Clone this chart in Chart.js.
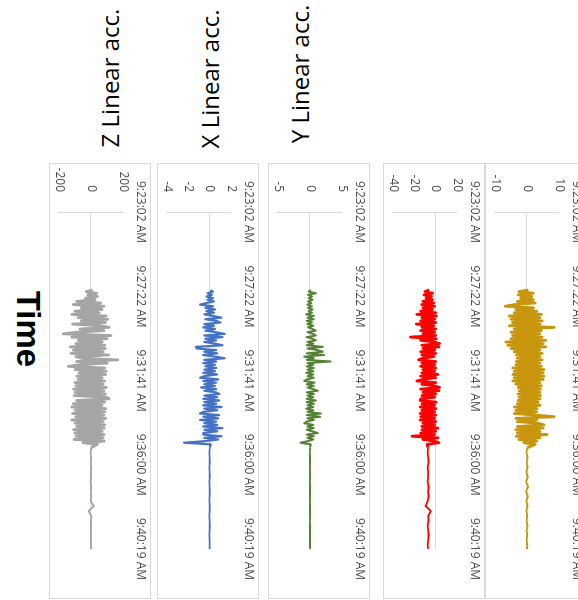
<!DOCTYPE html>
<html>
<head>
<meta charset="utf-8">
<script src="https://cdn.jsdelivr.net/npm/chart.js@4.4.1/dist/chart.umd.min.js"></script>
<style>
  html, body { margin: 0; padding: 0; background: #fff; }
  body { width: 578px; height: 600px; position: relative; overflow: hidden; font-family: "Open Sans", sans-serif; }
  /* the whole figure is turned a quarter turn clockwise */
  #stage { position: absolute; left: 0; top: 0; width: 600px; height: 578px; transform-origin: 0 0; transform: translateX(578px) rotate(90deg); }
  .box { position: absolute; width: 436px; height: 102px; border: 1px solid #d9d9d9; box-sizing: border-box; background: #fff; }
  .box canvas { position: absolute; left: -1px; top: -1px; }
  .label { position: absolute; white-space: nowrap; color: #000; line-height: 1; }
</style>
</head>
<body>
<div id="stage"></div>
<div class="label" style="left:110px;top:78px;font-size:24px;transform:translate(-50%,-50%) rotate(-90deg)">Z Linear acc.</div>
<div class="label" style="left:210px;top:79px;font-size:24px;transform:translate(-50%,-50%) rotate(-90deg)">X Linear acc.</div>
<div class="label" style="left:300px;top:74px;font-size:24px;transform:translate(-50%,-50%) rotate(-90deg)">Y Linear acc.</div>
<div class="label" style="left:28px;top:329px;font-size:33px;font-weight:bold;font-family:'Liberation Sans',Arial,sans-serif;transform:translate(-50%,-50%) rotate(90deg)">Time</div>
<script>
// time axis: seconds after 9:23:02 AM
const tickLabels = ['9:23:02 AM', '9:27:22 AM', '9:31:41 AM', '9:36:00 AM', '9:40:19 AM'];
const tickSec = [0, 260, 519, 778, 1037];

const sampleSec = [
  240, 245, 250, 255, 260, 265, 270, 275, 280, 285, 290, 295, 300, 305, 310, 315, 320, 325, 330, 335,
  340, 345, 350, 355, 360, 365, 370, 375, 380, 385, 390, 395, 400, 405, 410, 415, 420, 425, 430, 435,
  440, 445, 450, 455, 460, 465, 470, 475, 480, 485, 490, 495, 500, 505, 510, 515, 520, 525, 530, 535,
  540, 545, 550, 555, 560, 565, 570, 575, 580, 585, 590, 595, 600, 605, 610, 615, 620, 625, 630, 635,
  640, 645, 650, 655, 660, 665, 670, 675, 680, 685, 690, 695, 700, 705, 710, 715,
  725, 740, 755, 770, 785, 800, 815, 830, 845, 860, 875, 890, 905, 920, 935, 950, 965, 980, 995, 1010, 1025, 1037
];

// gold panel (top)
const accGold = [
  0.5, -2.5, 2, -2.8, 1.5, -2, 2,
  -3, 2.5, -4, -6.8, 2, -3.5, 3, -4,
  4.5, -5.5, 4, -5, 4.7, -4.5, 4, -5.5,
  8.5, -4, 4.5, -5, 4, -4.5, 4.7, -5,
  5.8, -6.6, 5, -6, 5.8,
  -5, 4, -4,
  4.7, -3.3, 4, -3, 4.7, -3.3, 4, -3.5, 4.5,
  -4.4, 5.3, -4, 5, -4.4, 5.3, -4, 5, -4.4,
  4, -3.5, 4.5,
  -2.8, 4.2, -2.5, 4, -2.8, 4.2, -2.5, 4, -2.8,
  3.5, -3, 4,
  -3.9, 3.1, -3.5, 3, -3.9, 2.5,
  8.5, -3.5, 3, -3, 3.5,
  5.3, -3, 5, -3.5, 4, -3,
  6.3, -3.3, 4, -2.5, 3,
  -1, 2.5,
  0.2, -0.2, 0.2, -0.1, 0.2, -0.2, 0.3, -0.3, 0.4, -0.3, 0.3, -0.2, 0.2, -0.2, 0.1, -0.1, 0.2, -0.1, 0.1, -0.1, 0.1, 0
];

// red panel
const accRed = [
  -6, -10, -3, -11, -4, -9, -3,
  -12, -2, -13, -1, -12, -3, -14, 0,
  -17.6, 0.6, -13, -1, -14, 0,
  -18, -2, -13, 0, -14, -1, -12, 0,
  -23.6, 0.5, -14, -1,
  3.6, -13, 3, -12,
  -1, -14, 0, -13, -2, -12,
  -16, 0, -13, -1, -14, 0, -12, -1, -13,
  2, -14, 0, -12,
  -17.6, 0, -13, -1,
  3.6, -14, 3, -12,
  0, -13, -1, -14,
  -14.5, 0.5, -13, -1, -14.5, 0, -13, -1,
  -14.5, 0, -14, -1, -14.5, 0, -12, -1, -13,
  2, -13, 0, -14, -1,
  -22, 2, -12, -1,
  3, -8,
  -7, -7.5, -7, -6.5, -7.5, -7, -7, -7.5, -6.5, -7, -6.5, -7.5, -9.5, -4.5, -7, -6.5, -7.5, -7, -6.5, -7, -7.5, -7
];

// Y linear acc. (green)
const yLinear = [
  0.1, -0.2, 0.9, -0.3, 0.3, -0.2, 0.4, -0.3, 0.2,
  -0.4, 0.3, -0.3, 0.4, -0.2, 0.3,
  -0.6, 0.6, -0.4, 0.6, -0.5,
  0.3, -0.4, 0.5, -0.3, 0.4,
  0.9, -0.4, 0.5, 0.9, -0.5, 0.4, 0.9,
  -0.4, 0.5, -0.5,
  2.0, -0.4, 1.2, 2.0, -0.5, 2.2,
  -0.9, 0.6, -0.5, 3.2, -0.4,
  0.5, -0.5, 0.6, -0.4, 0.5, -0.6, 0.5, -0.4, 0.6, -0.5,
  -0.9, 0.7, -0.5, 0.6, -0.4, 0.5,
  1.2, -0.5, 0.6, -0.4, 0.5, -0.5,
  0.9, -0.5, 0.6, -0.4, 0.5, -0.6, 0.5, -0.4,
  1.7, -0.5, 1.6, -0.4, 0.6, -0.5,
  -0.9, 0.5, -0.4, 0.6, -0.5, 0.4,
  1.2, -0.5, 0.6, -0.4, 0.5, -0.3,
  -1.5, 0.1,
  0.02, -0.02, 0.02, 0, -0.02, 0.02, 0, -0.02, 0.02, 0, 0, -0.02, 0.02, 0, 0, -0.02, 0.02, 0, 0, 0, 0, 0
];

// X linear acc. (blue)
const xLinear = [
  0.1, 0.3, -0.2, 0.2, -0.3, 0.3, -0.2, 0.4, -0.3,
  -0.9, 0.3, -0.4, 0.5, -0.3, 0.4, -0.5, 0.3,
  1.1, -0.4, 0.6, 1.0, -0.5, 0.4,
  -0.6, 0.5, -0.4, 0.6,
  1.4, -0.5, 1.2, -0.4, 0.6, -0.5, 0.5,
  1.2, -1.3, -1.2, 0.6, -0.5, 0.7, -0.6, 0.5,
  1.4, -0.5, 0.6, -0.6, 0.5, -0.4,
  0.6, -0.5, 0.5, -0.6, 0.7, -0.5,
  -0.9, 0.8, -0.6, 0.6, -0.5, 0.5,
  -0.8, 0.6, -0.5, 0.6,
  0.9, -0.5, 0.7, -0.6, 0.9, -0.5, 0.6, -0.6,
  1.1, -0.5, 0.7, -0.6,
  -0.9, 0.9, -0.6, 0.8, -0.9, 0.6, -0.5, 0.7, -0.6,
  1.2, -0.5, 0.7, -0.6,
  -0.6, 1.1, -0.5, 0.8, -0.4,
  -2.4, 0.1,
  0.02, -0.02, 0, 0.02, -0.02, 0, 0.02, -0.02, 0, 0.02, 0, -0.02, 0.02, 0, -0.02, 0, 0.02, 0, -0.02, 0, 0, 0
];

// Z linear acc. (grey)
const zLinear = [
  10, -30, 35, -20, 40, -35, 25,
  -90, 60, -110, 80, -60, 70, -100, 50,
  -120, 95, -80, 103, -60, 90, -115, 60,
  113, -70, 80, -90,
  -173, 124, -120, 100,
  -80, 70, -95, 85,
  -130, 90, -110, 75, -125, 110, -95, -60, 166,
  -90, 100, -70, -141,
  85, -100, 95, -75,
  92, -88, 70, -80, 85,
  -100, 75, -95,
  95, -109, 80, -100, 90, -105, 100, 113, -90,
  85, -110, 70,
  -120, 92, -100, 85, -115, 80, -95, 92, -120,
  75, -100, 85, -90,
  82, -109, 70, -100, 80, -95, 75, -105, 82,
  -50, 39,
  3, -2, 1, -1, 2, -1, 1, -2, 1, -1, 2, -1, 18, -15, 2, -1, 1, -1, 1, -1, 1, 0
];

const axisGrey = '#d9d9d9';
const labelGrey = '#4d4d4d';

const panels = [
  { values: accGold, color: '#C8960C', yTicks: [-10, 0, 10], top: -9, busyWidth: 2.8 },
  { values: accRed, color: '#FF0000', yTicks: [-40, -20, 0, 20], top: 93, busyWidth: 2.8 },
  { values: yLinear, color: '#548235', yTicks: [-5, 0, 5], top: 208, busyWidth: 2 },
  { values: xLinear, color: '#4472C4', yTicks: [-4, -2, 0, 2], top: 319, busyWidth: 2.2 },
  { values: zLinear, color: '#A5A5A5', yTicks: [-200, 0, 200], top: 427, busyWidth: 2.8 }
];

const stage = document.getElementById('stage');

panels.forEach(p => {
  const box = document.createElement('div');
  box.className = 'box';
  box.style.left = '163px';
  box.style.top = p.top + 'px';
  const canvas = document.createElement('canvas');
  canvas.width = 436;
  canvas.height = 102;
  canvas.style.width = '436px';
  canvas.style.height = '102px';
  box.appendChild(canvas);
  stage.appendChild(box);

  new Chart(canvas.getContext('2d'), {
    type: 'line',
    data: {
      datasets: [{
        data: sampleSec.map((t, i) => ({ x: t, y: p.values[i] })),
        borderColor: p.color,
        borderWidth: 1.8,
        borderJoinStyle: 'round',
        pointRadius: 0,
        tension: 0,
        // the busy stretch reads as a solid band in the original
        segment: { borderWidth: c => c.p0.parsed.x < 716 ? p.busyWidth : 1.8 }
      }]
    },
    options: {
      responsive: false,
      animation: false,
      events: [],
      layout: { padding: { left: 0, right: 50, top: 0, bottom: 10 } },
      plugins: { legend: { display: false }, tooltip: { enabled: false } },
      scales: {
        x: {
          type: 'linear',
          position: 'top',
          min: 0,
          max: 1037,
          // fixed band for the time labels, no extra room for the end labels
          afterFit: s => { s.height = 28; s.paddingLeft = 0; s.paddingRight = 0; },
          afterBuildTicks: s => { s.ticks = tickSec.map(v => ({ value: v })); },
          ticks: {
            autoSkip: false,
            maxRotation: 0,
            padding: 10,
            color: labelGrey,
            font: { family: 'Open Sans', size: 12 },
            callback: v => tickLabels[tickSec.indexOf(v)]
          },
          grid: { display: false, drawTicks: false },
          border: { display: false }
        },
        y: {
          min: p.yTicks[0],
          max: p.yTicks[p.yTicks.length - 1],
          afterFit: s => { s.width = 49; s.paddingTop = 0; s.paddingBottom = 0; },
          afterBuildTicks: s => { s.ticks = p.yTicks.map(v => ({ value: v })); },
          ticks: {
            autoSkip: false,
            padding: 20,
            color: labelGrey,
            font: { family: 'Open Sans', size: 12 }
          },
          grid: {
            drawTicks: false,
            color: c => (c.tick && c.tick.value === 0) ? axisGrey : 'rgba(0,0,0,0)'
          },
          border: { display: true, color: axisGrey }
        }
      }
    }
  });
});
</script>
</body>
</html>
